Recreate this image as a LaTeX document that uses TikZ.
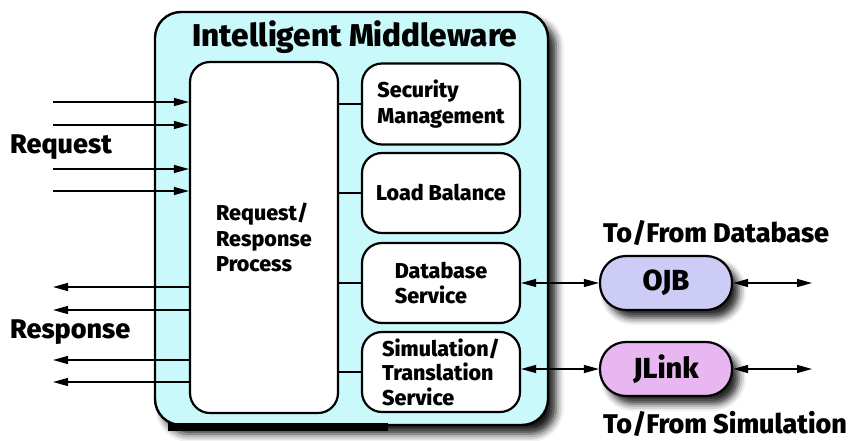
\documentclass[tikz,border=0pt]{standalone}
\usepackage{fontspec}
\setmainfont{Fira Sans}[BoldFont={Fira Sans ExtraBold}]
\usetikzlibrary{arrows.meta,shadows.blur}
\definecolor{mwfill}{HTML}{C9F9FB}
\definecolor{ojbfill}{HTML}{CCCCF6}
\definecolor{jlinkfill}{HTML}{E8B6F0}
\tikzset{
  box/.style={draw=black, line width=2.2pt, fill=white, rounded corners=20pt,
    align=left, font=\bfseries\fontsize{21.5}{25.5}\selectfont, inner sep=0pt},
  pill/.style={draw=black, line width=2.2pt, rounded corners=26pt, inner sep=0pt,
    minimum width=132pt, minimum height=54pt, font=\bfseries\fontsize{29}{34}\selectfont,
    blur shadow={shadow xshift=7pt, shadow yshift=-8pt, shadow blur radius=7pt, shadow opacity=85}},
  lbl/.style={font=\bfseries\fontsize{27}{32}\selectfont, inner sep=0pt},
  wire/.style={line width=1.3pt},
  tip/.style={-{Triangle[length=15pt,width=8pt]}},
  tips/.style={{Triangle[length=15pt,width=8pt]}-{Triangle[length=15pt,width=8pt]}},
}
\begin{document}
\begin{tikzpicture}[x=1pt,y=-1pt]
\useasboundingbox (0,0) rectangle (848,441);

% outer middleware container
\node[draw=black, line width=2.4pt, fill=mwfill, rounded corners=26pt,
  minimum width=393pt, minimum height=413pt,
  blur shadow={shadow xshift=8pt, shadow yshift=-9pt, shadow blur radius=8pt, shadow opacity=90}]
  (mw) at (351.5,218.5) {};
\node[lbl, font=\bfseries\fontsize{31.5}{36}\selectfont] (title) at (355,37) {Intelligent Middleware};
\fill[black] (168,423) rectangle (388,431);

% inner components
\node[box, minimum width=148pt, minimum height=351pt] (proc) at (264,237.5)
  {Request/\\Response\\Process};
\node[box, minimum width=158pt, minimum height=81pt] (sec) at (441,104)
  {Security\\Management};
\node[box, minimum width=158pt, minimum height=80pt] (load) at (441,193)
  {Load Balance};
\node[box, minimum width=158pt, minimum height=80pt] (db) at (441,283)
  {Database\\Service};
\node[box, minimum width=158pt, minimum height=80pt, font=\bfseries\fontsize{21.5}{24.5}\selectfont] (sim) at (441,372)
  {Simulation/\\Translation\\Service};

% links between the process block and the services
\foreach \s in {sec,load,db,sim}
  \draw[wire] (proc.east |- \s.west) -- (\s.west);

% request and response lines
\foreach \y [count=\i] in {102,125,169,191} {
  \coordinate (rq\i) at (53,\y);
  \draw[wire, tip] (rq\i) -- (rq\i -| proc.west);
}
\foreach \y [count=\i] in {287,310,360,382} {
  \coordinate (rs\i) at (53,\y);
  \draw[wire, tip] (rs\i -| proc.west) -- (rs\i);
}
\node[lbl, anchor=west] (req) at (10,147) {Request};
\node[lbl, anchor=west] (resp) at (10,332) {Response};

% external adapters
\node[pill, fill=ojbfill] (ojb) at (666,283) {OJB};
\node[pill, fill=jlinkfill] (jlink) at (666,369) {JLink};
\coordinate (dbout) at (812,283);
\coordinate (simout) at (812,369);
\draw[wire, tips] (db.east |- ojb.west) -- (ojb.west);
\draw[wire, tips] (ojb.east) -- (dbout);
\draw[wire, tips] (sim.east |- jlink.west) -- (jlink.west);
\draw[wire, tips] (jlink.east) -- (simout);
\node[lbl, anchor=west] (todb) at (603,233) {To/From Database};
\node[lbl, anchor=west] (tosim) at (603,424) {To/From Simulation};
\end{tikzpicture}
\end{document}
